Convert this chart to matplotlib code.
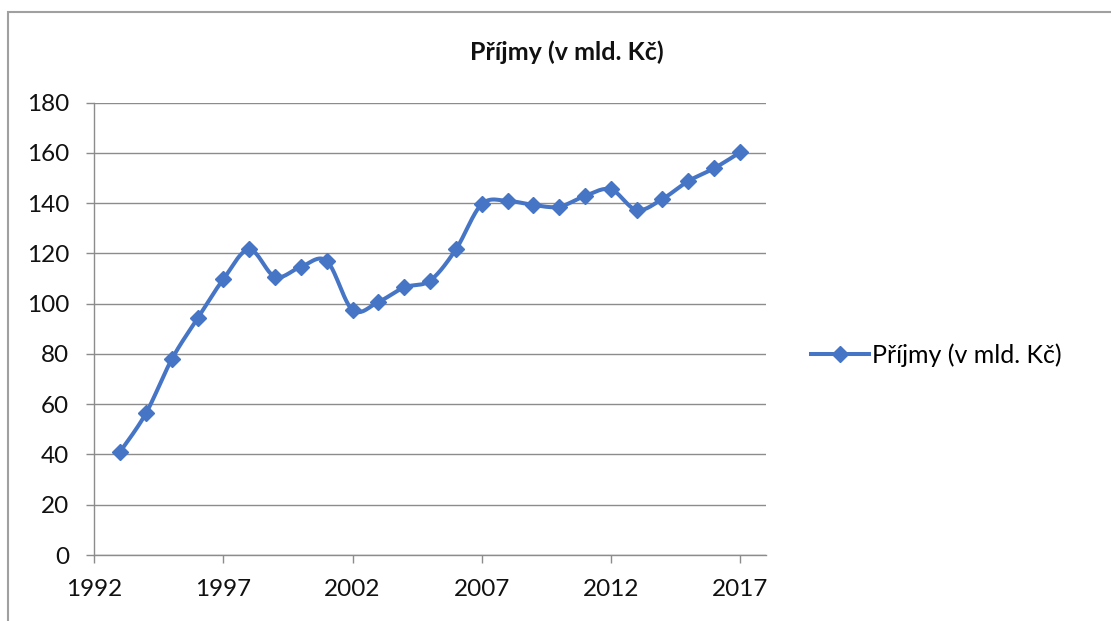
import numpy as np
import matplotlib
matplotlib.use("Agg")
import matplotlib.pyplot as plt
from matplotlib.patches import Rectangle

years = [1993, 1994, 1995, 1996, 1997, 1998, 1999, 2000, 2001, 2002, 2003, 2004, 2005,
         2006, 2007, 2008, 2009, 2010, 2011, 2012, 2013, 2014, 2015, 2016, 2017]
prijmy = [41.1, 56.4, 77.9, 94.2, 109.8, 121.6, 110.7, 114.7, 117.0, 97.5, 100.7, 106.5, 109.2,
          121.6, 139.6, 140.9, 139.3, 138.6, 142.9, 145.5, 137.3, 141.7, 148.8, 153.9, 160.2]
x_ticks = [1992, 1997, 2002, 2007, 2012, 2017]
y_ticks = [0, 20, 40, 60, 80, 100, 120, 140, 160, 180]
title = "Příjmy (v mld. Kč)"
series_label = "Příjmy (v mld. Kč)"

color = "#4675C5"
grid_c = "#8c8c8c"
FONT = "Lato"
FS = 17.5


def smooth(xs, ys, n=24):
    xs = np.asarray(xs, float)
    ys = np.asarray(ys, float)
    P = np.column_stack([xs, ys])
    out = []
    m = len(P)
    for i in range(m - 1):
        p0 = P[i - 1] if i > 0 else P[i]
        p1 = P[i]
        p2 = P[i + 1]
        p3 = P[i + 2] if i + 2 < m else P[i + 1]
        c1 = p1 + (p2 - p0) / 6.0
        c2 = p2 - (p3 - p1) / 6.0
        t = np.linspace(0, 1, n, endpoint=(i == m - 2))[:, None]
        seg = ((1 - t) ** 3) * p1 + 3 * ((1 - t) ** 2) * t * c1 + 3 * (1 - t) * t ** 2 * c2 + t ** 3 * p2
        out.append(seg)
    out = np.vstack(out)
    return out[:, 0], out[:, 1]


fig = plt.figure(figsize=(11.11, 6.21), dpi=100)
fig.patches.append(Rectangle((8 / 1111, -0.1), 1.2, 1.1 - 12 / 621, transform=fig.transFigure,
                             fill=False, edgecolor="#a0a0a0", linewidth=1.5, figure=fig))

ax = fig.add_axes([94.3 / 1111, 1 - 555 / 621, (765.8 - 94.3) / 1111, (555 - 102.7) / 621])

sx, sy = smooth(years, prijmy)
ax.plot(sx, sy, color=color, linewidth=2.9, solid_capstyle="round", zorder=3)
ax.plot(years, prijmy, linestyle="none", marker="D", markersize=8, color=color, zorder=4)

ax.set_xlim(1992, 2018)
ax.set_ylim(0, 180)
ax.set_xticks(x_ticks)
ax.set_yticks(y_ticks)
ax.set_xticklabels([str(v) for v in x_ticks], fontfamily=FONT, fontsize=FS)
ax.set_yticklabels([str(v) for v in y_ticks], fontfamily=FONT, fontsize=FS)
ax.yaxis.grid(True, color=grid_c, linewidth=1.0)
ax.set_axisbelow(True)
for s in ["top", "right"]:
    ax.spines[s].set_visible(False)
for s in ["left", "bottom"]:
    ax.spines[s].set_color(grid_c)
    ax.spines[s].set_linewidth(1.0)
ax.tick_params(axis="y", length=6, width=1, color=grid_c, pad=12, labelcolor="#111111")
ax.tick_params(axis="x", length=6, width=1, color=grid_c, pad=11, labelcolor="#111111")

fig.text(567 / 1111, 1 - 52 / 621, title, ha="center", va="center", fontfamily=FONT,
         fontsize=18, fontweight="bold", color="#111111")

h, = ax.plot([], [], color=color, linewidth=2.9, marker="D", markersize=8)
fig.legend([h], [series_label], loc="center left", bbox_to_anchor=(811 / 1111, 1 - 355 / 621),
           frameon=False, prop={"family": FONT, "size": 18}, handlelength=2.3,
           handletextpad=0.15, borderpad=0, borderaxespad=0)

fig.savefig("out.png", dpi=100)
